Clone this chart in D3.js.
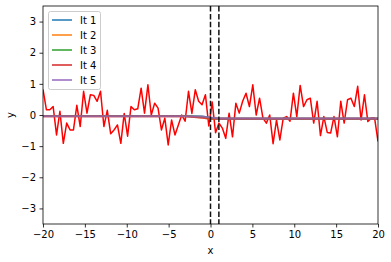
<!DOCTYPE html>
<html><head><meta charset="utf-8">
<script src="https://cdn.jsdelivr.net/npm/d3@7"></script>
<style>body{margin:0;background:#fff}svg{display:block}text{font-family:"DejaVu Sans",sans-serif}</style>
</head><body><svg id="c" width="391" height="262"></svg>
<script>
// Noisy data (red), 100 samples evenly spaced from -20 to 20
const dataX0 = -20, dataX1 = 20;
const dataY = [
 0.82, 0.17, 0.17, 0.27,-0.64, 0.12,-0.91,-0.26,-0.48,-0.48,
 0.31,-0.37, 0.76, 0.06, 0.65, 0.63, 0.44, 0.76,-0.37, 0.15,
-0.6,-0.48,-0.32,-0.91, 0.05,-0.68, 0.27, 0.17, 0.2, 0.86,
 0.06, 0.97, 0.0, 0.38, 0.22,-0.48,-0.1,-0.96,-0.16,-0.64,
-0.32, 0.0,-0.2, 0.76, 0.05, 0.81, 0.44, 0.33, 0.65,-0.35,
 0.42,-0.57,-0.26,-0.42,-0.75, 0.06,-0.7, 0.38, 0.06, 0.44,
 0.7, 0.27, 0.97, 0.0, 0.54,-0.1,-0.26, 0.0,-0.92,-0.16,
-0.8,-0.1,-0.05,-0.2, 0.7,-0.05, 0.95, 0.27, 0.49, 0.54,
-0.26, 0.44,-0.66,-0.05,-0.56,-0.58,-0.05,-0.7, 0.44,-0.26,
 0.49, 0.54, 0.27, 0.92,-0.16, 0.65,-0.21,-0.1,-0.1,-0.85];

// Fitted iteration curves, given at knots
const fitX = [-20, -3, -1, 0, 1, 20];
const seriesNames = ["It 1","It 2","It 3","It 4","It 5"];
const seriesColors = ["#1f77b4","#ff7f0e","#2ca02c","#d62728","#9467bd"];
const fitY = [
 [-0.03,-0.03,-0.05,-0.09,-0.11,-0.11],
 [-0.04,-0.04,-0.08,-0.13,-0.12,-0.12],
 [-0.03,-0.03,-0.06,-0.10,-0.12,-0.12],
 [-0.04,-0.04,-0.09,-0.12,-0.12,-0.12],
 [-0.04,-0.04,-0.05,-0.08,-0.11,-0.11]
];
const vLines = [0, 1];
const xTicks = [-20,-15,-10,-5,0,5,10,15,20];
const yTicks = [-3,-2,-1,0,1,2,3];

const svg = d3.select("#c");
const L=43, R=378, T=6, B=224;
const x = d3.scaleLinear().domain([-20,20]).range([L,R]);
const y = d3.scaleLinear().domain([-3.5,3.5]).range([B,T]);
const fmt = d => d<0 ? "\u2212"+Math.abs(d) : ""+d;

svg.append("defs").append("clipPath").attr("id","clip")
  .append("rect").attr("x",L).attr("y",T).attr("width",R-L).attr("height",B-T);
const g = svg.append("g").attr("clip-path","url(#clip)");

const n = dataY.length;
const pts = dataY.map((v,i)=>[dataX0 + i*(dataX1-dataX0)/(n-1), v]);
g.append("path").datum(pts).attr("fill","none").attr("stroke","#ff0000")
  .attr("stroke-width",1.5).attr("stroke-linejoin","round")
  .attr("d", d3.line().x(d=>x(d[0])).y(d=>y(d[1])));

fitY.forEach((s,k)=>{
  g.append("path").datum(s.map((v,i)=>[fitX[i],v])).attr("fill","none")
   .attr("stroke",seriesColors[k]).attr("stroke-width",2).attr("stroke-opacity",0.75)
   .attr("d", d3.line().x(d=>x(d[0])).y(d=>y(d[1])));
});

vLines.forEach(v=>{
  g.append("line").attr("x1",x(v)).attr("x2",x(v)).attr("y1",T).attr("y2",B)
   .attr("stroke","#111").attr("stroke-width",1.5).attr("stroke-dasharray","5.5,2.4");
});

// axes
const xa = svg.append("g").attr("transform",`translate(0,${B})`)
  .call(d3.axisBottom(x).tickValues(xTicks).tickFormat(fmt).tickSize(3.5).tickPadding(3.5));
const ya = svg.append("g").attr("transform",`translate(${L},0)`)
  .call(d3.axisLeft(y).tickValues(yTicks).tickFormat(fmt).tickSize(3.5).tickPadding(3.5));
[xa,ya].forEach(a=>{
  a.select(".domain").remove();
  a.selectAll("line").attr("stroke","#000").attr("stroke-width",0.8);
  a.selectAll("text").attr("font-size",10).attr("fill","#000")
   .style("font-family","'DejaVu Sans',sans-serif");
});
svg.append("rect").attr("x",L).attr("y",T).attr("width",R-L).attr("height",B-T)
  .attr("fill","none").attr("stroke","#000").attr("stroke-width",0.8);

svg.append("text").attr("x",(L+R)/2).attr("y",254).attr("text-anchor","middle")
  .attr("font-size",10).text("x");
svg.append("text").attr("transform",`translate(14,${(T+B)/2}) rotate(-90)`)
  .attr("text-anchor","middle").attr("font-size",10).text("y");

// legend
const lg = svg.append("g");
lg.append("rect").attr("x",48.5).attr("y",11.5).attr("width",52).attr("height",78)
  .attr("rx",2).attr("fill","#fff").attr("fill-opacity",0.8).attr("stroke","#ccc").attr("stroke-width",1);
seriesNames.forEach((nm,i)=>{
  const yy = 20 + i*15;
  lg.append("line").attr("x1",52).attr("x2",72).attr("y1",yy).attr("y2",yy)
    .attr("stroke",seriesColors[i]).attr("stroke-width",2).attr("stroke-opacity",0.75);
  lg.append("text").attr("x",80).attr("y",yy+3.5).attr("font-size",10).text(nm);
});
</script></body></html>
